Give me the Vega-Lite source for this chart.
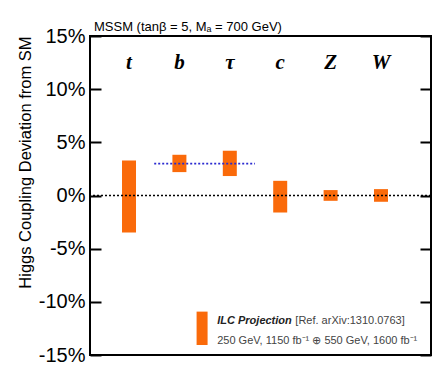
{
  "$schema": "https://vega.github.io/schema/vega-lite/v6.json",
  "width": 341,
  "height": 319,
  "autosize": "none",
  "padding": {"left": 90, "top": 36, "right": 14, "bottom": 30},
  "background": "white",
  "title": {
    "text": "MSSM (tanβ = 5, Mₐ = 700 GeV)",
    "anchor": "start",
    "frame": "group",
    "font": "Liberation Sans",
    "fontSize": 13,
    "fontWeight": "normal",
    "color": "black",
    "dx": 4,
    "offset": -21,
    "baseline": "bottom"
  },
  "config": {"view": {"stroke": "black", "strokeWidth": 2}},
  "datasets": {
    "couplings": [
      {"particle": "t", "pos": 1, "lo": -3.48, "hi": 3.30},
      {"particle": "b", "pos": 2, "lo": 2.20, "hi": 3.83},
      {"particle": "τ", "pos": 3, "lo": 1.83, "hi": 4.21},
      {"particle": "c", "pos": 4, "lo": -1.60, "hi": 1.38},
      {"particle": "Z", "pos": 5, "lo": -0.50, "hi": 0.51},
      {"particle": "W", "pos": 6, "lo": -0.59, "hi": 0.60}
    ],
    "mssm": [{"x1": 1.5, "x2": 3.5, "y": 3.0}],
    "legendSwatch": [{"x": 2.45, "lo": -14.06, "hi": -10.92}],
    "legendBold": [{"text": "ILC Projection", "x": 2.75, "y": -11.77}],
    "legendPlain": [
      {"text": "[Ref. arXiv:1310.0763]", "x": 4.3, "y": -11.77},
      {"text": "250 GeV, 1150 fb⁻¹ ⊕ 550 GeV, 1600 fb⁻¹", "x": 2.75, "y": -13.65}
    ]
  },
  "layer": [
    {
      "data": {"name": "couplings"},
      "mark": {"type": "bar", "width": 14, "color": "#fa6a0a"},
      "encoding": {
        "x": {"field": "pos", "type": "quantitative", "scale": {"domain": [0.226, 6.992], "zero": false, "nice": false, "padding": 0}, "axis": null},
        "y": {
          "field": "lo",
          "type": "quantitative",
          "scale": {"domain": [-15, 15], "nice": false, "zero": false, "padding": 0},
          "axis": {
            "orient": "left",
            "values": [-15, -10, -5, 0, 5, 10, 15],
            "labelExpr": "datum.value + '%'",
            "tickSize": -11,
            "tickWidth": 2,
            "tickColor": "black",
            "domain": false,
            "grid": false,
            "labelFont": "Liberation Sans",
            "labelFontSize": 20,
            "labelColor": "black",
            "labelPadding": 16,
            "title": "Higgs Coupling Deviation from SM",
            "titleFont": "Liberation Sans",
            "titleFontSize": 16.5,
            "titleFontWeight": "normal",
            "titleColor": "black",
            "titleAnchor": "end",
            "titlePadding": 5
          }
        },
        "y2": {"field": "hi"}
      }
    },
    {
      "data": {"name": "mssm"},
      "mark": {"type": "rule", "color": "#2a2ad0", "strokeWidth": 1.6, "strokeDash": [2, 2]},
      "encoding": {
        "x": {"field": "x1", "type": "quantitative", "axis": null},
        "x2": {"field": "x2"},
        "y": {"field": "y", "type": "quantitative", "axis": null}
      }
    },
    {
      "data": {"values": [{"y": 0}]},
      "mark": {"type": "rule", "color": "black", "strokeWidth": 1.6, "strokeDash": [2, 2]},
      "encoding": {
        "y": {
          "field": "y",
          "type": "quantitative",
          "axis": {
            "orient": "right",
            "values": [-15, -10, -5, 0, 5, 10, 15],
            "labels": false,
            "tickSize": -11,
            "tickWidth": 2,
            "tickColor": "black",
            "domain": false,
            "grid": false,
            "title": null
          }
        }
      }
    },
    {
      "data": {"name": "couplings"},
      "mark": {"type": "text", "font": "Liberation Serif", "fontStyle": "italic", "fontWeight": "bold", "fontSize": 21, "color": "black", "baseline": "middle", "align": "center"},
      "encoding": {
        "x": {"field": "pos", "type": "quantitative", "axis": null},
        "y": {"datum": 12.5, "type": "quantitative", "axis": null},
        "text": {"field": "particle"}
      }
    },
    {
      "data": {"name": "legendSwatch"},
      "mark": {"type": "bar", "width": 11, "color": "#fa6a0a"},
      "encoding": {
        "x": {"field": "x", "type": "quantitative", "axis": null},
        "y": {"field": "lo", "type": "quantitative", "axis": null},
        "y2": {"field": "hi"}
      }
    },
    {
      "data": {"name": "legendBold"},
      "mark": {"type": "text", "font": "Liberation Sans", "fontStyle": "italic", "fontWeight": "bold", "fontSize": 11, "color": "#222222", "align": "left", "baseline": "middle"},
      "encoding": {
        "x": {"field": "x", "type": "quantitative", "axis": null},
        "y": {"field": "y", "type": "quantitative", "axis": null},
        "text": {"field": "text"}
      }
    },
    {
      "data": {"name": "legendPlain"},
      "mark": {"type": "text", "font": "Liberation Sans", "fontSize": 11, "color": "#444444", "align": "left", "baseline": "middle"},
      "encoding": {
        "x": {"field": "x", "type": "quantitative", "axis": null},
        "y": {"field": "y", "type": "quantitative", "axis": null},
        "text": {"field": "text"}
      }
    }
  ],
  "resolve": {"axis": {"y": "independent"}}
}
